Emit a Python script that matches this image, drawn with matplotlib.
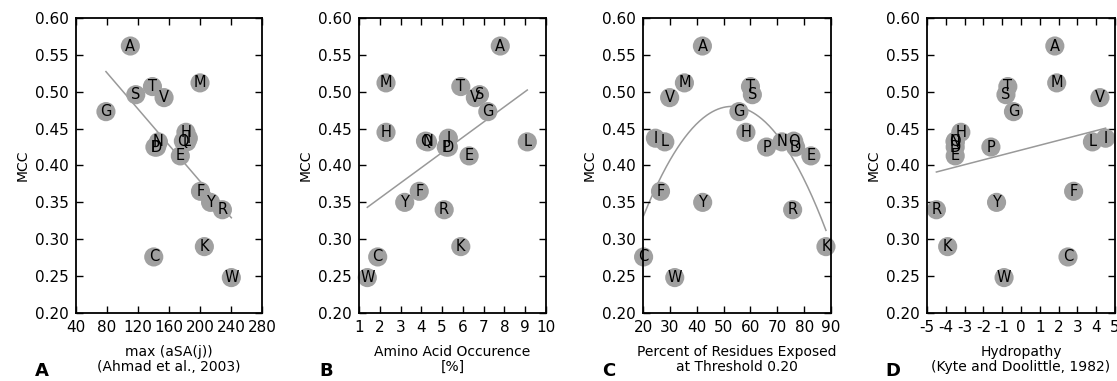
import numpy as np
import matplotlib
matplotlib.use("Agg")
import matplotlib.pyplot as plt

plt.rcParams['axes.unicode_minus'] = False
plt.rcParams['font.family'] = 'DejaVu Sans'

# amino acids and their MCC
residues = ['A', 'R', 'N', 'D', 'C', 'Q', 'E', 'G', 'H', 'I',
            'L', 'K', 'M', 'F', 'P', 'S', 'T', 'W', 'Y', 'V']
mcc = [0.562, 0.340, 0.432, 0.425, 0.276, 0.433, 0.413, 0.473, 0.445, 0.437,
       0.432, 0.290, 0.512, 0.365, 0.425, 0.496, 0.507, 0.248, 0.350, 0.492]

# max accessible surface area (Ahmad et al., 2003)
max_asa = [110.2, 229.0, 146.4, 144.1, 140.4, 178.6, 174.7, 78.7, 181.9, 185.0,
           183.1, 205.7, 200.1, 200.7, 141.9, 117.2, 138.7, 240.5, 213.7, 153.7]
# amino acid occurence [%]
occurence = [7.8, 5.1, 4.3, 5.3, 1.9, 4.2, 6.3, 7.2, 2.3, 5.3,
             9.1, 5.9, 2.3, 3.9, 5.2, 6.8, 5.9, 1.4, 3.2, 6.6]
# percent of residues exposed at threshold 0.20
exposed = [42.1, 75.7, 71.7, 76.8, 20.2, 76.1, 82.5, 55.7, 58.3, 24.6,
           28.1, 88.1, 35.4, 26.5, 66.0, 60.7, 60.0, 31.8, 42.2, 29.9]
# Kyte & Doolittle hydropathy
hydropathy = [1.8, -4.5, -3.5, -3.5, 2.5, -3.5, -3.5, -0.4, -3.2, 4.5,
              3.8, -3.9, 1.9, 2.8, -1.6, -0.8, -0.7, -0.9, -1.3, 4.2]

panels = [
    ('A', max_asa, 'max (aSA(j))\n(Ahmad et al., 2003)', 1, (40, 280), np.arange(40, 281, 40)),
    ('B', occurence, 'Amino Acid Occurence\n[%]', 1, (1, 10), np.arange(1, 11, 1)),
    ('C', exposed, 'Percent of Residues Exposed\nat Threshold 0.20', 2, (20, 90), np.arange(20, 91, 10)),
    ('D', hydropathy, 'Hydropathy\n(Kyte and Doolittle, 1982)', 1, (-5, 5), np.arange(-5, 6, 1)),
]

lefts = [0.068, 0.3214, 0.5757, 0.8299]
widths = [0.1665, 0.1674, 0.1683, 0.1683]
panel_letter_x = [0.031, 0.286, 0.539, 0.793]

fig = plt.figure(figsize=(11.17, 3.81), dpi=100)

for i, (tag, xs, xlabel, deg, xlim, xticks) in enumerate(panels):
    ax = fig.add_axes([lefts[i], 0.1785, widths[i], 0.7743])
    xs = np.array(xs)
    ys = np.array(mcc)

    # fitted trend
    coef = np.polyfit(xs, ys, deg)
    xf = np.linspace(xs.min(), xs.max(), 200)
    ax.plot(xf, np.polyval(coef, xf), color='#999999', lw=1.1, zorder=1)

    ax.scatter(xs, ys, s=190, color='#a0a0a0', edgecolors='none', zorder=2, clip_on=False)
    for r, x, y in zip(residues, xs, ys):
        ax.text(x, y, r, ha='center', va='center', fontsize=10.5, zorder=3)

    ax.set_xlim(*xlim)
    ax.set_ylim(0.20, 0.60)
    ax.set_xticks(xticks)
    ax.set_yticks(np.arange(0.20, 0.601, 0.05))
    ax.set_yticklabels(['%.2f' % v for v in np.arange(0.20, 0.601, 0.05)])
    ax.tick_params(direction='in', top=True, right=True, length=5, width=1,
                   labelsize=11, pad=5)
    for sp in ax.spines.values():
        sp.set_linewidth(1.3)
    ax.set_ylabel('MCC', fontsize=10)
    ax.set_xlabel(xlabel, fontsize=10, labelpad=7, linespacing=1.1)

    fig.text(panel_letter_x[i], 0.012, tag, fontsize=13, fontweight='bold')

fig.savefig('out.png', dpi=100)
